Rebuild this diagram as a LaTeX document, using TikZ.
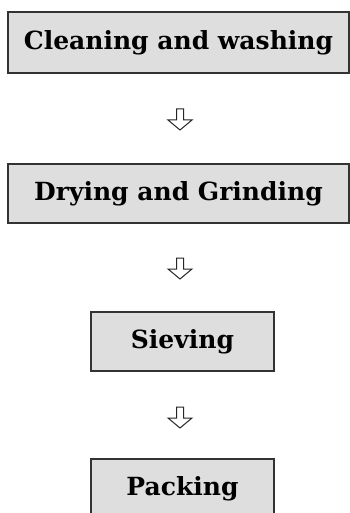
\documentclass[tikz,border=0pt]{standalone}
\usepackage{fontspec}
\setmainfont{DejaVu Serif}
\begin{document}
\begin{tikzpicture}[x=1pt,y=-1pt,
  stagebox/.style={draw=black!80,line width=1.3pt,fill=black!13,inner sep=0pt,
    font=\fontsize{25}{30}\selectfont\bfseries},
  hollowarrow/.style={draw=black!85,line width=1pt,fill=white,line join=miter}]
\useasboundingbox (0,0) rectangle (350,513);
\node[stagebox,minimum width=341pt,minimum height=61pt] (clean) at (178.5,42.5) {Cleaning and washing};
\node[stagebox,minimum width=341pt,minimum height=59pt] (dry) at (178.5,193.5) {Drying and Grinding};
\node[stagebox,minimum width=183pt,minimum height=59pt] (sieve) at (182.5,341.5) {Sieving};
\node[stagebox,minimum width=183pt,minimum height=59pt] (pack) at (182.5,488.5) {Packing};
\coordinate (a1) at (180,109);
\coordinate (a2) at (180,258);
\coordinate (a3) at (180,407);
\foreach \a in {a1,a2,a3}{
  \draw[hollowarrow] (\a) ++(-3.5,0) -- ++(7,0) -- ++(0,11) -- ++(8.5,0) -- ++(-12,10) -- ++(-12,-10) -- ++(8.5,0) -- cycle;
}
\end{tikzpicture}
\end{document}
